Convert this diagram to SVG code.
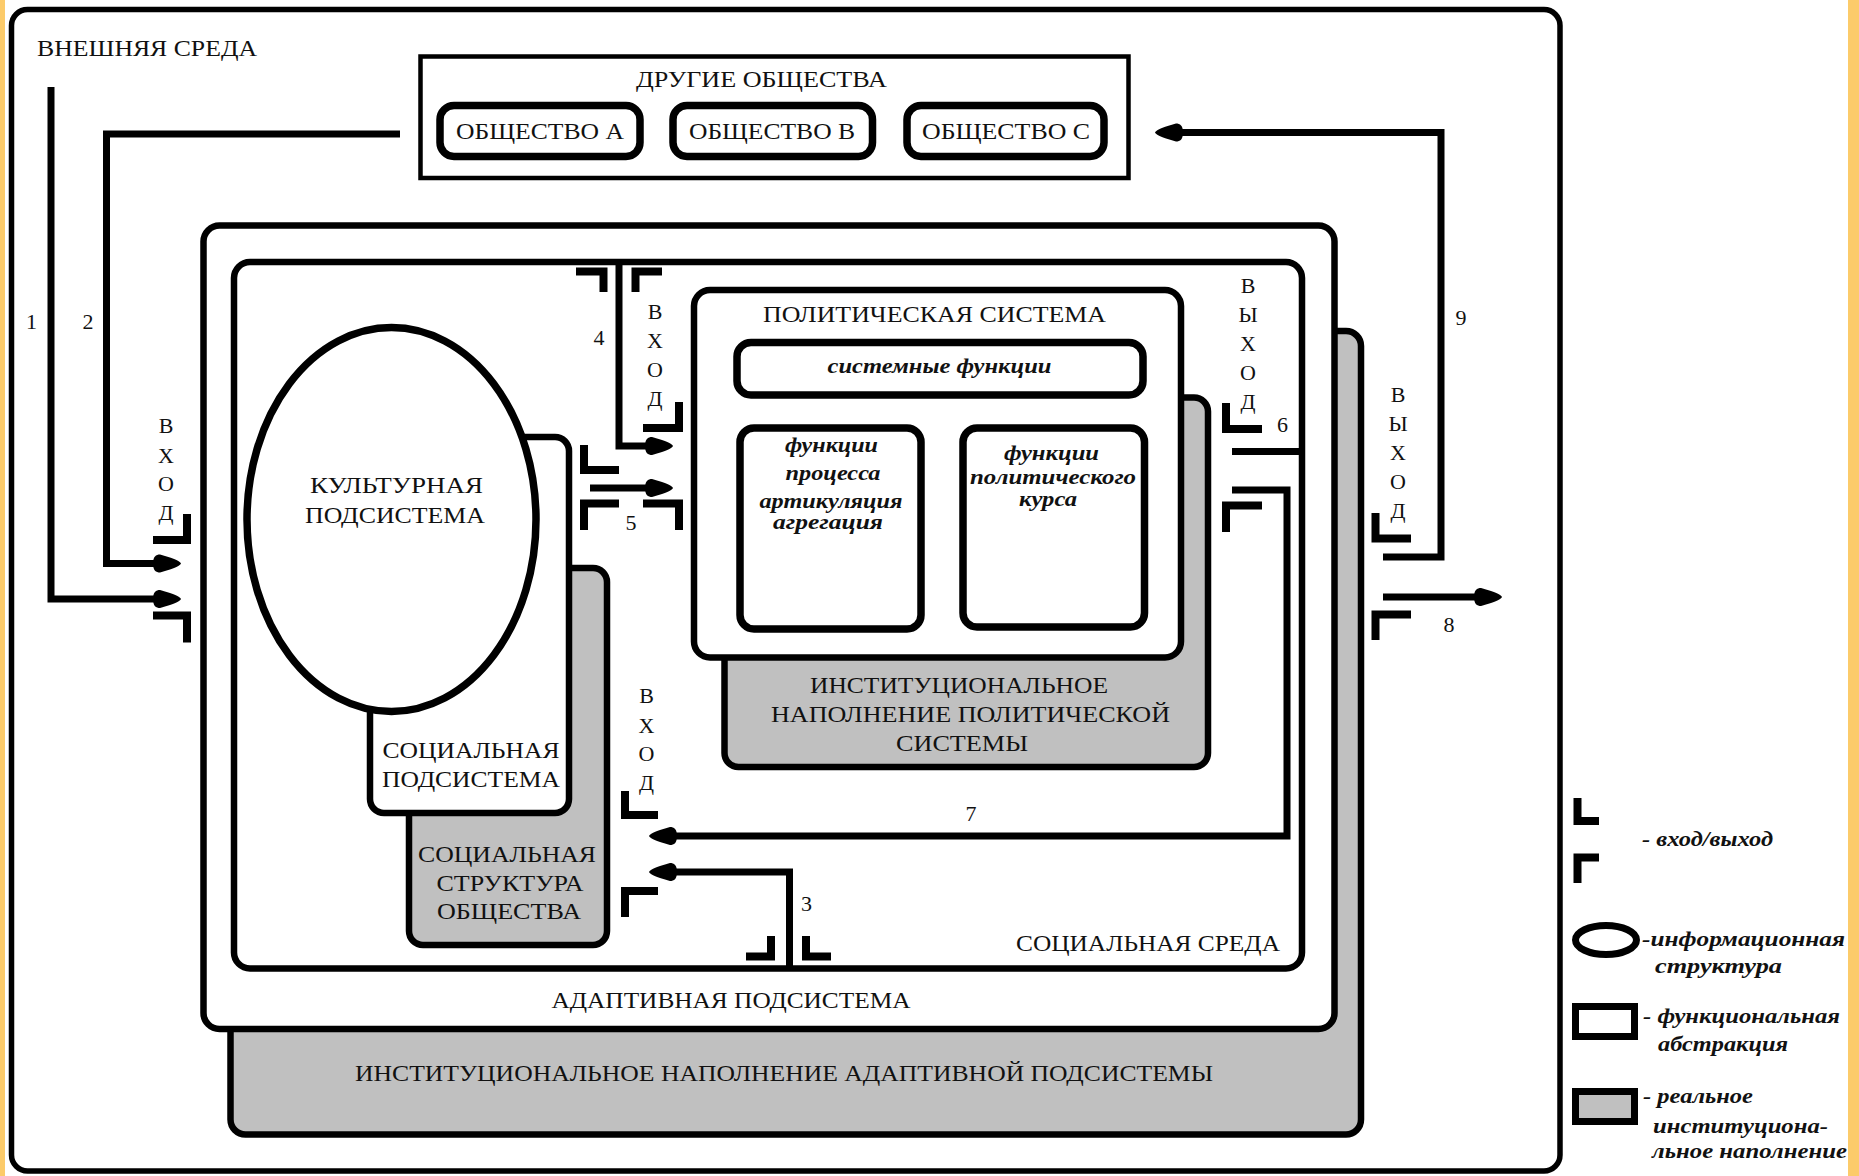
<svg xmlns="http://www.w3.org/2000/svg" width="1859" height="1176" viewBox="0 0 1859 1176">
<style>
.box{fill:#fff;stroke:#000;stroke-width:6.5}
.gray{fill:#c0c0c0;stroke:#000;stroke-width:6.5}
.sub{fill:#fff;stroke:#000;stroke-width:7.5}
.thin{fill:#fff;stroke:#000;stroke-width:4.5}
.conn{fill:none;stroke:#000;stroke-width:7}
.br{fill:none;stroke:#000;stroke-width:8;stroke-linejoin:miter;stroke-linecap:butt}
.t{font-family:"Liberation Serif","Times New Roman",serif;font-size:24px;fill:#111}
.c{text-anchor:middle}
.v{font-family:"Liberation Serif","Times New Roman",serif;font-size:22px;fill:#111;text-anchor:middle}
.n{font-family:"Liberation Serif","Times New Roman",serif;font-size:22px;fill:#111;text-anchor:middle}
.it{font-family:"Liberation Serif","Times New Roman",serif;font-style:italic;font-weight:bold;fill:#111}
</style>
<defs>
<marker id="ah" markerUnits="userSpaceOnUse" markerWidth="32" markerHeight="24" viewBox="0 0 32 24" refX="14" refY="12" orient="auto">
<path d="M2,12 C2,5 5,3 9,3 L19,6 C25,8 29,10 30,12 C29,14 25,16 19,18 L9,21 C5,21 2,19 2,12 Z" fill="#000"/>
</marker>
</defs>
<rect x="0" y="0" width="1859" height="1176" fill="#fff"/>
<rect x="0" y="0" width="5" height="1176" fill="#fccb6a"/>
<rect x="1848" y="0" width="11" height="1176" fill="#fccb6a"/>

<g id="external-environment">
<rect x="11.5" y="9.5" width="1548.5" height="1161.5" rx="16" fill="none" stroke="#000" stroke-width="5.5"/>
<text class="t" x="37" y="56" textLength="220" lengthAdjust="spacingAndGlyphs">ВНЕШНЯЯ СРЕДА</text>
</g>

<g id="other-societies">
<rect class="thin" x="420.5" y="56.5" width="708" height="121.5"/>
<text class="t c" x="761.5" y="87" textLength="251" lengthAdjust="spacingAndGlyphs">ДРУГИЕ ОБЩЕСТВА</text>
</g>
<g id="society-a">
<rect class="sub" x="440" y="105.5" width="200" height="51" rx="14"/>
<text class="t c" x="540" y="139" textLength="168" lengthAdjust="spacingAndGlyphs">ОБЩЕСТВО A</text>
</g>
<g id="society-b">
<rect class="sub" x="673" y="105.5" width="199.5" height="51" rx="14"/>
<text class="t c" x="772" y="139" textLength="166" lengthAdjust="spacingAndGlyphs">ОБЩЕСТВО B</text>
</g>
<g id="society-c">
<rect class="sub" x="907" y="105.5" width="197" height="51" rx="14"/>
<text class="t c" x="1006" y="139" textLength="168" lengthAdjust="spacingAndGlyphs">ОБЩЕСТВО C</text>
</g>

<g id="adaptive-institutional">
<rect class="gray" x="230.5" y="331" width="1130.5" height="803.5" rx="15" stroke-width="7"/>
<text class="t c" x="784" y="1081" textLength="858" lengthAdjust="spacingAndGlyphs">ИНСТИТУЦИОНАЛЬНОЕ НАПОЛНЕНИЕ АДАПТИВНОЙ ПОДСИСТЕМЫ</text>
</g>
<g id="adaptive-subsystem">
<rect class="box" x="203.5" y="225.5" width="1131" height="803.5" rx="16" stroke-width="7"/>
<text class="t c" x="731" y="1008" textLength="359" lengthAdjust="spacingAndGlyphs">АДАПТИВНАЯ ПОДСИСТЕМА</text>
</g>
<g id="social-environment">
<rect class="box" x="234" y="262" width="1068" height="706.5" rx="16"/>
<text class="t c" x="1148" y="951" textLength="264" lengthAdjust="spacingAndGlyphs">СОЦИАЛЬНАЯ СРЕДА</text>
</g>

<g id="social-structure">
<rect class="gray" x="409" y="568" width="198" height="377" rx="14"/>
<text class="t c" x="507" y="862" textLength="178" lengthAdjust="spacingAndGlyphs">СОЦИАЛЬНАЯ</text>
<text class="t c" x="510" y="891" textLength="147" lengthAdjust="spacingAndGlyphs">СТРУКТУРА</text>
<text class="t c" x="509" y="919" textLength="144" lengthAdjust="spacingAndGlyphs">ОБЩЕСТВА</text>
</g>
<g id="social-subsystem">
<rect class="box" x="370" y="437" width="199" height="376" rx="14"/>
<text class="t c" x="471" y="758" textLength="177" lengthAdjust="spacingAndGlyphs">СОЦИАЛЬНАЯ</text>
<text class="t c" x="471" y="787" textLength="178" lengthAdjust="spacingAndGlyphs">ПОДСИСТЕМА</text>
</g>
<g id="cultural-subsystem">
<ellipse cx="391.5" cy="519.5" rx="144.5" ry="192" fill="#fff" stroke="#000" stroke-width="7.5"/>
<text class="t c" x="396.5" y="493" textLength="173" lengthAdjust="spacingAndGlyphs">КУЛЬТУРНАЯ</text>
<text class="t c" x="395" y="523" textLength="180" lengthAdjust="spacingAndGlyphs">ПОДСИСТЕМА</text>
</g>

<g id="political-institutional">
<rect class="gray" x="724.5" y="397.5" width="483.5" height="369.5" rx="14" stroke-width="7"/>
<text class="t c" x="959" y="693" textLength="298" lengthAdjust="spacingAndGlyphs">ИНСТИТУЦИОНАЛЬНОЕ</text>
<text class="t c" x="970.5" y="721.5" textLength="399" lengthAdjust="spacingAndGlyphs">НАПОЛНЕНИЕ ПОЛИТИЧЕСКОЙ</text>
<text class="t c" x="962" y="751" textLength="132" lengthAdjust="spacingAndGlyphs">СИСТЕМЫ</text>
</g>
<g id="political-system">
<rect class="box" x="694" y="290" width="487" height="367.5" rx="16" stroke-width="7"/>
<text class="t c" x="934.5" y="322" textLength="343" lengthAdjust="spacingAndGlyphs">ПОЛИТИЧЕСКАЯ СИСТЕМА</text>
</g>
<g id="system-functions">
<rect class="sub" x="737" y="342.5" width="406" height="52.5" rx="14"/>
<text class="it c" x="939.5" y="373" font-size="22" textLength="224" lengthAdjust="spacingAndGlyphs">системные функции</text>
</g>
<g id="process-functions">
<rect class="sub" x="740" y="428" width="181" height="201" rx="14"/>
<text class="it c" x="831.5" y="452" font-size="20" textLength="93" lengthAdjust="spacingAndGlyphs">функции</text>
<text class="it c" x="833" y="480" font-size="20" textLength="95" lengthAdjust="spacingAndGlyphs">процесса</text>
<text class="it c" x="831" y="508" font-size="20" textLength="143" lengthAdjust="spacingAndGlyphs">артикуляция</text>
<text class="it c" x="828" y="529" font-size="20" textLength="110" lengthAdjust="spacingAndGlyphs">агрегация</text>
</g>
<g id="policy-functions">
<rect class="sub" x="963" y="428" width="181.5" height="199" rx="14"/>
<text class="it c" x="1051.5" y="460" font-size="20" textLength="95" lengthAdjust="spacingAndGlyphs">функции</text>
<text class="it c" x="1053" y="483.5" font-size="20" textLength="166" lengthAdjust="spacingAndGlyphs">политического</text>
<text class="it c" x="1048" y="506" font-size="20" textLength="58" lengthAdjust="spacingAndGlyphs">курса</text>
</g>

<g id="connectors">
<path class="conn" d="M51,87 V599 H165" marker-end="url(#ah)"/>
<path class="conn" d="M400,134 H106.5 V563.5 H165" marker-end="url(#ah)"/>
<path class="conn" d="M1383,557 H1441 V132.5 H1171" marker-end="url(#ah)"/>
<path class="conn" d="M619,262 V446 H657" marker-end="url(#ah)"/>
<path class="conn" d="M590,488 H657" marker-end="url(#ah)"/>
<path class="conn" d="M1232,451.5 H1302"/>
<path class="conn" d="M1232,490 H1287 V836 H665" marker-end="url(#ah)"/>
<path class="conn" d="M789.5,966 V872 H665" marker-end="url(#ah)"/>
<path class="conn" d="M1383,597 H1486" marker-end="url(#ah)"/>
<text class="n" x="31.5" y="329">1</text>
<text class="n" x="88" y="329">2</text>
<text class="n" x="806.5" y="911">3</text>
<text class="n" x="599" y="345">4</text>
<text class="n" x="631" y="530">5</text>
<text class="n" x="1282.5" y="432">6</text>
<text class="n" x="971" y="821">7</text>
<text class="n" x="1449" y="632">8</text>
<text class="n" x="1461" y="325">9</text>
</g>

<g id="gate-adaptive-input">
<path class="br" d="M153,540 H187 V514"/>
<path class="br" d="M153,615.5 H187 V642.5"/>
<text class="v" x="166" y="433">В</text>
<text class="v" x="166" y="463">Х</text>
<text class="v" x="166" y="491">О</text>
<text class="v" x="166" y="520">Д</text>
</g>
<g id="gate-social-env-top">
<path class="br" d="M576,271.5 H603.5 V292"/>
<path class="br" d="M662,271.5 H635.5 V292"/>
</g>
<g id="gate-political-input">
<path class="br" d="M643,428 H679 V402"/>
<path class="br" d="M643,503.5 H679 V530"/>
<text class="v" x="655" y="319">В</text>
<text class="v" x="655" y="348">Х</text>
<text class="v" x="655" y="377">О</text>
<text class="v" x="655" y="406">Д</text>
</g>
<g id="gate-social-output">
<path class="br" d="M584,445 V470 H619"/>
<path class="br" d="M619,503.5 H584 V530"/>
</g>
<g id="gate-political-output">
<path class="br" d="M1226,403 V429 H1262"/>
<path class="br" d="M1262,505.5 H1226 V532"/>
<text class="v" x="1248" y="293">В</text>
<text class="v" x="1248" y="322">Ы</text>
<text class="v" x="1248" y="351">Х</text>
<text class="v" x="1248" y="380">О</text>
<text class="v" x="1248" y="409">Д</text>
</g>
<g id="gate-adaptive-output">
<path class="br" d="M1375.5,513 V538.5 H1411"/>
<path class="br" d="M1411,614.5 H1375.5 V640"/>
<text class="v" x="1398" y="402">В</text>
<text class="v" x="1398" y="431">Ы</text>
<text class="v" x="1398" y="460">Х</text>
<text class="v" x="1398" y="489">О</text>
<text class="v" x="1398" y="518">Д</text>
</g>
<g id="gate-social-structure-input">
<path class="br" d="M625,791 V815 H658"/>
<path class="br" d="M658,891 H625 V917"/>
<text class="v" x="646.5" y="703">В</text>
<text class="v" x="646.5" y="733">Х</text>
<text class="v" x="646.5" y="761">О</text>
<text class="v" x="646.5" y="790">Д</text>
</g>
<g id="gate-social-env-bottom">
<path class="br" d="M746,956.5 H771 V936"/>
<path class="br" d="M806,936 V956.5 H831"/>
</g>

<g id="legend">
<path class="br" d="M1577.5,798 V821 H1599"/>
<path class="br" d="M1599,857.5 H1577.5 V883"/>
<text class="it" x="1642" y="846" font-size="22" textLength="131" lengthAdjust="spacingAndGlyphs">- вход/выход</text>
<ellipse cx="1606" cy="940" rx="30.5" ry="14.5" fill="#fff" stroke="#000" stroke-width="7"/>
<text class="it" x="1642" y="946" font-size="22" textLength="203" lengthAdjust="spacingAndGlyphs">-информационная</text>
<text class="it" x="1655" y="973" font-size="22" textLength="127" lengthAdjust="spacingAndGlyphs">структура</text>
<rect x="1575.5" y="1006.5" width="59" height="30" fill="#fff" stroke="#000" stroke-width="7"/>
<text class="it" x="1643" y="1023" font-size="22" textLength="197" lengthAdjust="spacingAndGlyphs">- функциональная</text>
<text class="it" x="1658" y="1051" font-size="22" textLength="130" lengthAdjust="spacingAndGlyphs">абстракция</text>
<rect x="1575.5" y="1091.5" width="59" height="30" fill="#c0c0c0" stroke="#000" stroke-width="7"/>
<text class="it" x="1643" y="1103" font-size="22" textLength="110" lengthAdjust="spacingAndGlyphs">- реальное</text>
<text class="it" x="1653" y="1133" font-size="22" textLength="175" lengthAdjust="spacingAndGlyphs">институциона-</text>
<text class="it" x="1652" y="1158" font-size="22" textLength="195" lengthAdjust="spacingAndGlyphs">льное наполнение</text>
</g>
</svg>
